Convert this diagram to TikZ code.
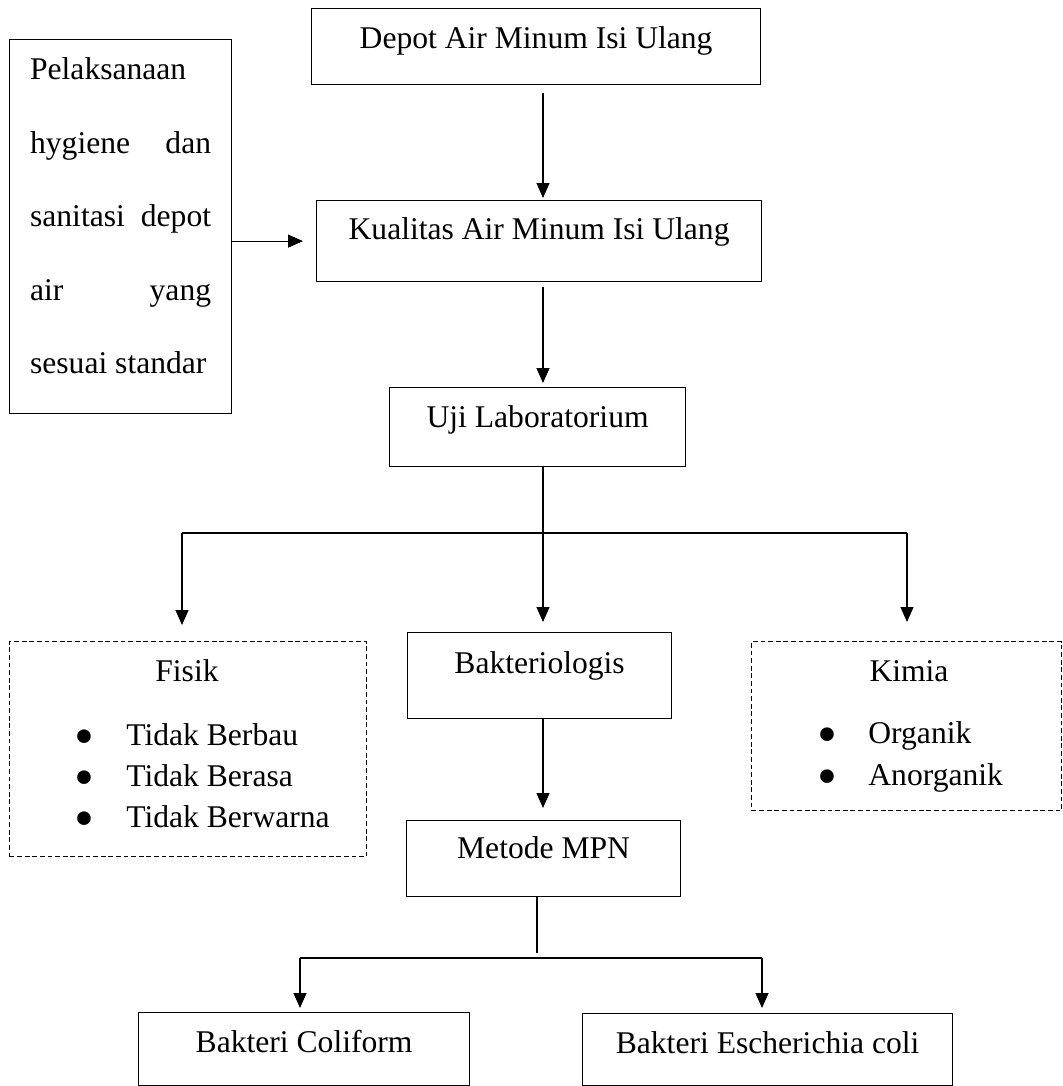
\documentclass[tikz,border=0pt]{standalone}
\usepackage{fontspec}
\setmainfont{Liberation Serif}
\usetikzlibrary{arrows.meta}
\newcommand\dfont{\fontsize{15.8pt}{19pt}\selectfont}
\newcommand\bigbul{\smash{\raisebox{-5.2pt}{\scalebox{1.8}{\textbullet}}}}
\begin{document}
\begin{tikzpicture}[x=0.5pt,y=-0.5pt,
  every node/.style={font=\dfont},
  box/.style={draw,line width=0.6pt,inner sep=0pt,anchor=north west,minimum height=0pt},
  dbox/.style={draw,line width=0.6pt,dash pattern=on 2.4pt off 1.4pt,inner sep=0pt,anchor=north west},
  txt/.style={inner sep=0pt,anchor=base},
  itm/.style={inner sep=0pt,anchor=base west},
  con/.style={line width=0.55pt},
  arr/.style={con,-{Triangle[length=7.5pt,width=6.5pt]}}]
\useasboundingbox (0,0) rectangle (1062,1086);

% boxes
\node[box,minimum width=224.5pt,text height=20pt,text depth=18pt] (depot) at (311,8) {Depot Air Minum Isi Ulang};
\node[box,minimum width=222.5pt,text height=19.5pt,text depth=21pt] (kual) at (316,200) {Kualitas Air Minum Isi Ulang};
\node[box,minimum width=148pt,text height=20pt,text depth=19.5pt] (uji) at (389,387) {Uji Laboratorium};
\node[box,minimum width=132pt,text height=20.5pt,text depth=22.5pt] (bakt) at (407,632) {Bakteriologis};
\node[box,minimum width=137pt,text height=19pt,text depth=19pt] (mpn) at (406,820) {Metode MPN};
\node[box,minimum width=165.5pt,text height=20pt,text depth=16.5pt] (col) at (138,1012) {Bakteri Coliform};
\node[box,minimum width=185pt,text height=20pt,text depth=16pt] (eco) at (582,1013) {Bakteri Escherichia coli};

\node[box,minimum width=111pt,text height=20pt,text depth=167pt] (left) at (9,39)
  {\parbox[t]{90.5pt}{\baselineskip=36.75pt Pelaksanaan\\ hygiene\hfill dan\\ sanitasi\hfill depot\\ air\hfill yang\\ sesuai standar}};

% dashed boxes
\node[dbox,minimum width=178.5pt,minimum height=107.5pt] (fisik) at (9,641) {};
\node[txt] (fisikH) at (187,681) {Fisik};
\node[txt] (fb1) at (84,745) {\bigbul};
\node[itm] (fi1) at (126,745) {Tidak Berbau};
\node[txt] (fb2) at (84,786) {\bigbul};
\node[itm] (fi2) at (126,786) {Tidak Berasa};
\node[txt] (fb3) at (84,827) {\bigbul};
\node[itm] (fi3) at (126,827) {Tidak Berwarna};

\node[dbox,minimum width=155pt,minimum height=84.5pt] (kimia) at (751,641) {};
\node[txt] (kimiaH) at (909,681) {Kimia};
\node[txt] (kb1) at (827,743) {\bigbul};
\node[itm] (ki1) at (868,743) {Organik};
\node[txt] (kb2) at (827,785) {\bigbul};
\node[itm] (ki2) at (868,785) {Anorganik};

% connector coordinates
\coordinate (spine) at (543,0);
\coordinate (hl) at (182,533);
\coordinate (hr) at (907,533);
\coordinate (mj) at (537,953);
\coordinate (bl) at (300,958);
\coordinate (br) at (762,958);

% connectors
\draw[arr,shorten <=4pt,shorten >=1pt] (depot.south -| spine) -- (kual.north -| spine);
\draw[arr,shorten <=2.5pt,shorten >=2pt] (kual.south -| spine) -- (uji.north -| spine);
\draw[arr,shorten >=6.5pt] (kual.west -| left.east) -- (kual.west);
\draw[arr,shorten >=5pt] (uji.south -| spine) -- (bakt.north -| spine);
\draw[con] (hl) -- (hr);
\draw[arr,shorten >=8pt] (hl) -- (fisik.north -| hl);
\draw[arr,shorten >=9.5pt] (hr) -- (kimia.north -| hr);
\draw[arr,shorten >=6pt] (bakt.south -| spine) -- (mpn.north -| spine);
\draw[con] (mpn.south -| mj) -- (mj);
\draw[con] (bl) -- (br);
\draw[arr,shorten >=2pt] (bl) -- (col.north -| bl);
\draw[arr,shorten >=2.5pt] (br) -- (eco.north -| br);
\end{tikzpicture}
\end{document}
